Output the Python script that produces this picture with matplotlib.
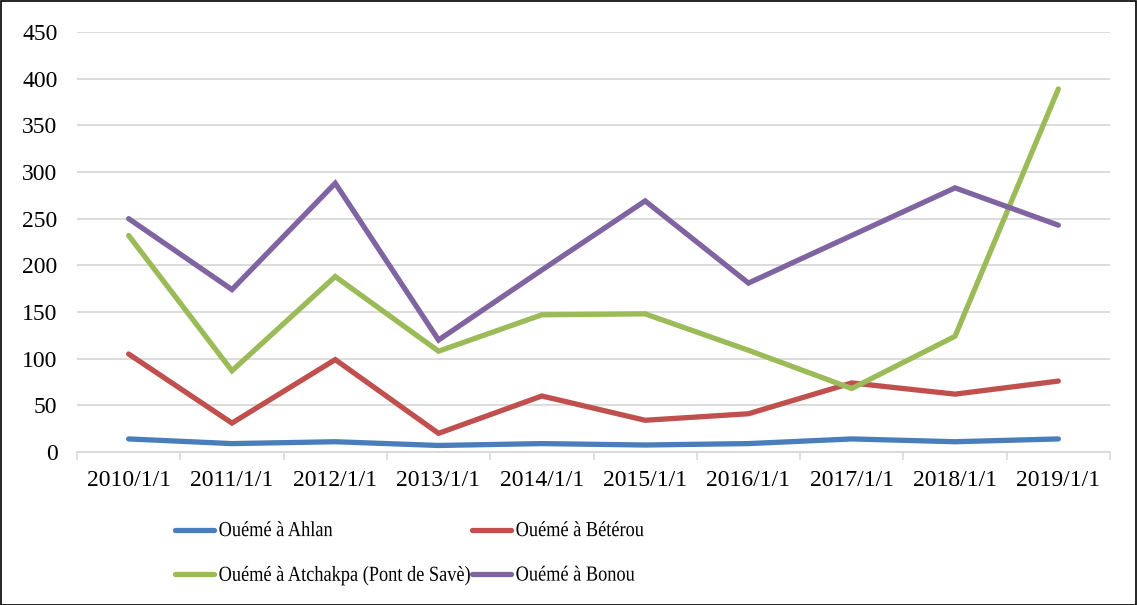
import matplotlib
matplotlib.use("Agg")
import matplotlib.pyplot as plt
from matplotlib.patches import Rectangle
from matplotlib.patheffects import AbstractPathEffect
from matplotlib.transforms import Affine2D
import numpy as np

categories = ["2010/1/1", "2011/1/1", "2012/1/1", "2013/1/1", "2014/1/1",
              "2015/1/1", "2016/1/1", "2017/1/1", "2018/1/1", "2019/1/1"]
ahlan = [14, 9, 11, 7, 9, 7.5, 9, 14, 11, 14]
beterou = [105, 31, 99, 20, 60, 34, 41, 74, 62, 76]
atchakpa = [232, 87, 188, 108, 147, 148, 109, 68, 124, 389]
bonou = [250, 174, 288, 120, 195, 269, 181, 232, 283, 243]

series_names = ["Ouémé à Ahlan", "Ouémé à Bétérou",
                "Ouémé à Atchakpa (Pont de Savè)", "Ouémé à Bonou"]
colors = ["#4a7ebb", "#c0504d", "#9bbb59", "#8064a2"]
yticks = [0, 50, 100, 150, 200, 250, 300, 350, 400, 450]

plt.rcParams['font.family'] = ['Liberation Serif', 'DejaVu Serif']
FS = 17
LFS = 13.2


class VStretch(AbstractPathEffect):
    """Stretch text glyphs vertically about their baseline (condensed look)."""
    def __init__(self, sy):
        super().__init__()
        self.sy = sy

    def draw_path(self, renderer, gc, tpath, affine, rgbFace=None):
        y0 = affine.transform((0, 0))[1]
        new_aff = affine + Affine2D().translate(0, -y0).scale(1, self.sy).translate(0, y0)
        renderer.draw_path(gc, tpath, new_aff, rgbFace)


W, H = 1137, 605
fig = plt.figure(figsize=(W / 100, H / 100), dpi=100)
ax = fig.add_axes([77 / W, 1 - 452 / H, (1110 - 77) / W, (452 - 32) / H])

x = np.arange(len(categories))
lines = []
for vals, name, c in zip([ahlan, beterou, atchakpa, bonou], series_names, colors):
    ln, = ax.plot(x, vals, color=c, lw=3.8, solid_capstyle='round',
                  solid_joinstyle='miter', label=name, zorder=3)
    lines.append(ln)

ax.set_xlim(-0.5, len(categories) - 0.5)
ax.set_ylim(0, 450)
ax.set_yticks(yticks)
ax.set_yticklabels([str(v) for v in yticks])
ax.set_xticks(x)
ax.set_xticklabels(categories)
ax.set_xticks(np.arange(-0.5, len(categories), 1), minor=True)
ax.tick_params(axis='x', which='major', length=0, pad=13, labelsize=FS)
ax.tick_params(axis='x', which='minor', length=6, width=1.2, color='#d9d9d9')
ax.tick_params(axis='y', length=0, pad=14, labelsize=FS)
ax.grid(axis='y', color='#d9d9d9', lw=1.3, zorder=0)
for s in ['top', 'right', 'left']:
    ax.spines[s].set_visible(False)
ax.spines['bottom'].set_color('#d9d9d9')
ax.spines['bottom'].set_linewidth(1.3)
ax.set_axisbelow(True)

# row-wise legend order: reorder for column-major fill
order = [0, 2, 1, 3]
leg = fig.legend(handles=[lines[i] for i in order], labels=[series_names[i] for i in order],
                 ncol=2, frameon=False,
                 loc='center left', bbox_to_anchor=(175 / W, 1 - 554 / H),
                 fontsize=LFS, handlelength=2.1, handletextpad=0.28,
                 columnspacing=0.0, labelspacing=1.5, borderpad=0, borderaxespad=0)
for t in leg.get_texts():
    t.set_path_effects([VStretch(1.17)])

fig.patches.append(Rectangle((0.5 / W, 0.5 / H), 1 - 1.5 / W, 1 - 1.5 / H,
                             transform=fig.transFigure, fill=False,
                             edgecolor='black', lw=1.2))

fig.savefig("out.png", dpi=100)
